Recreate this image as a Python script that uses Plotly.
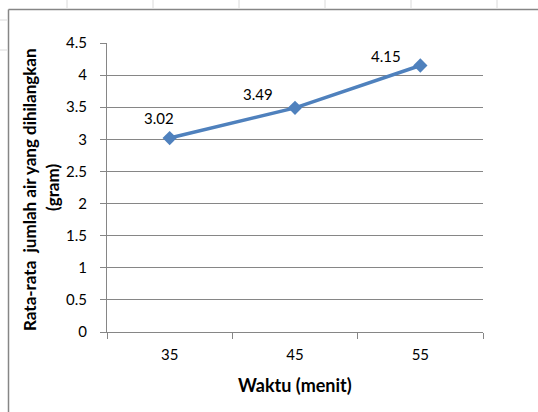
import plotly.graph_objects as go

# Average water loss per drying time
waktu = ["35", "45", "55"]
rata_rata = [3.02, 3.49, 4.15]
y_ticks = [0, 0.5, 1, 1.5, 2, 2.5, 3, 3.5, 4, 4.5]

# label offsets in pixels (dx, dy) relative to each point
label_offsets = [(-11, 20), (-37, 14), (-34, 9)]

W, H = 538, 412
L, R, T, B = 107, 55, 43, 80
pw, ph = W - L - R, H - T - B

def px_x(x):
    return (x - L) / pw

def px_y(y):
    return 1 - (y - T) / ph

FONT = "Lato"
AXIS_GREY = "#868686"
LINE_BLUE = "#4F81BD"
TICK_SIZE = 15

fig = go.Figure()
fig.add_trace(go.Scatter(
    x=waktu, y=rata_rata, mode="lines+markers",
    line=dict(color=LINE_BLUE, width=3.5),
    marker=dict(symbol="diamond", size=11, color=LINE_BLUE),
    hoverinfo="skip", showlegend=False,
))

annotations = []
for i, (y, (dx, dy)) in enumerate(zip(rata_rata, label_offsets)):
    annotations.append(dict(
        x=i, y=y, xref="x", yref="y", text=f"{y:.2f}", showarrow=False,
        xshift=dx, yshift=dy, font=dict(family=FONT, size=TICK_SIZE, color="#000000"),
    ))

# axis titles
annotations.append(dict(
    x=px_x(295), y=px_y(385), xref="paper", yref="paper",
    xanchor="center", yanchor="middle",
    text="<b>Waktu (menit)</b>", showarrow=False,
    font=dict(family=FONT, size=18, color="#000000"),
))
annotations.append(dict(
    x=px_x(29), y=px_y(190), xref="paper", yref="paper",
    xanchor="center", yanchor="middle",
    text="<b>Rata-rata  jumlah air yang dihilangkan</b>", showarrow=False,
    textangle=-90, font=dict(family=FONT, size=17, color="#000000"),
))
annotations.append(dict(
    x=px_x(52), y=px_y(188), xref="paper", yref="paper",
    xanchor="center", yanchor="middle",
    text="<b>(gram)</b>", showarrow=False,
    textangle=-90, font=dict(family=FONT, size=17, color="#000000"),
))

shapes = [
    # chart border
    dict(type="line", xref="paper", yref="paper",
         x0=px_x(8.5), x1=px_x(545), y0=px_y(9.5), y1=px_y(9.5),
         line=dict(color=AXIS_GREY, width=1.5)),
    dict(type="line", xref="paper", yref="paper",
         x0=px_x(8.5), x1=px_x(8.5), y0=px_y(9.5), y1=px_y(420),
         line=dict(color=AXIS_GREY, width=1.5)),
]
# sheet cell grid peeking around the chart
for gx in [67, 153, 239, 325, 411, 497]:
    shapes.append(dict(type="line", xref="paper", yref="paper",
                       x0=px_x(gx), x1=px_x(gx), y0=px_y(0), y1=px_y(8),
                       line=dict(color="#dadada", width=1)))
for gy in [20, 50]:
    shapes.append(dict(type="line", xref="paper", yref="paper",
                       x0=px_x(0), x1=px_x(7), y0=px_y(gy), y1=px_y(gy),
                       line=dict(color="#dadada", width=1)))

fig.update_layout(
    width=W, height=H,
    margin=dict(l=L, r=R, t=T, b=B),
    paper_bgcolor="white", plot_bgcolor="white",
    annotations=annotations, shapes=shapes,
    xaxis=dict(
        type="category", range=[-0.5, len(waktu) - 0.5], autorange=False,
        showline=True, linecolor=AXIS_GREY, linewidth=1,
        ticks="outside", tickson="boundaries", ticklen=6, tickcolor=AXIS_GREY,
        showgrid=False, ticklabelstandoff=9, tickangle=0,
        tickfont=dict(family=FONT, size=TICK_SIZE, color="#000000"),
    ),
    yaxis=dict(
        range=[0, 4.5], autorange=False,
        tickvals=y_ticks, ticktext=[f"{v:g}" for v in y_ticks],
        showline=True, linecolor=AXIS_GREY, linewidth=1,
        ticks="outside", ticklen=6, tickcolor=AXIS_GREY,
        showgrid=True, gridcolor=AXIS_GREY, gridwidth=1, zeroline=False,
        ticklabelstandoff=10,
        tickfont=dict(family=FONT, size=TICK_SIZE, color="#000000"),
    ),
)

fig.write_html("out.html")
